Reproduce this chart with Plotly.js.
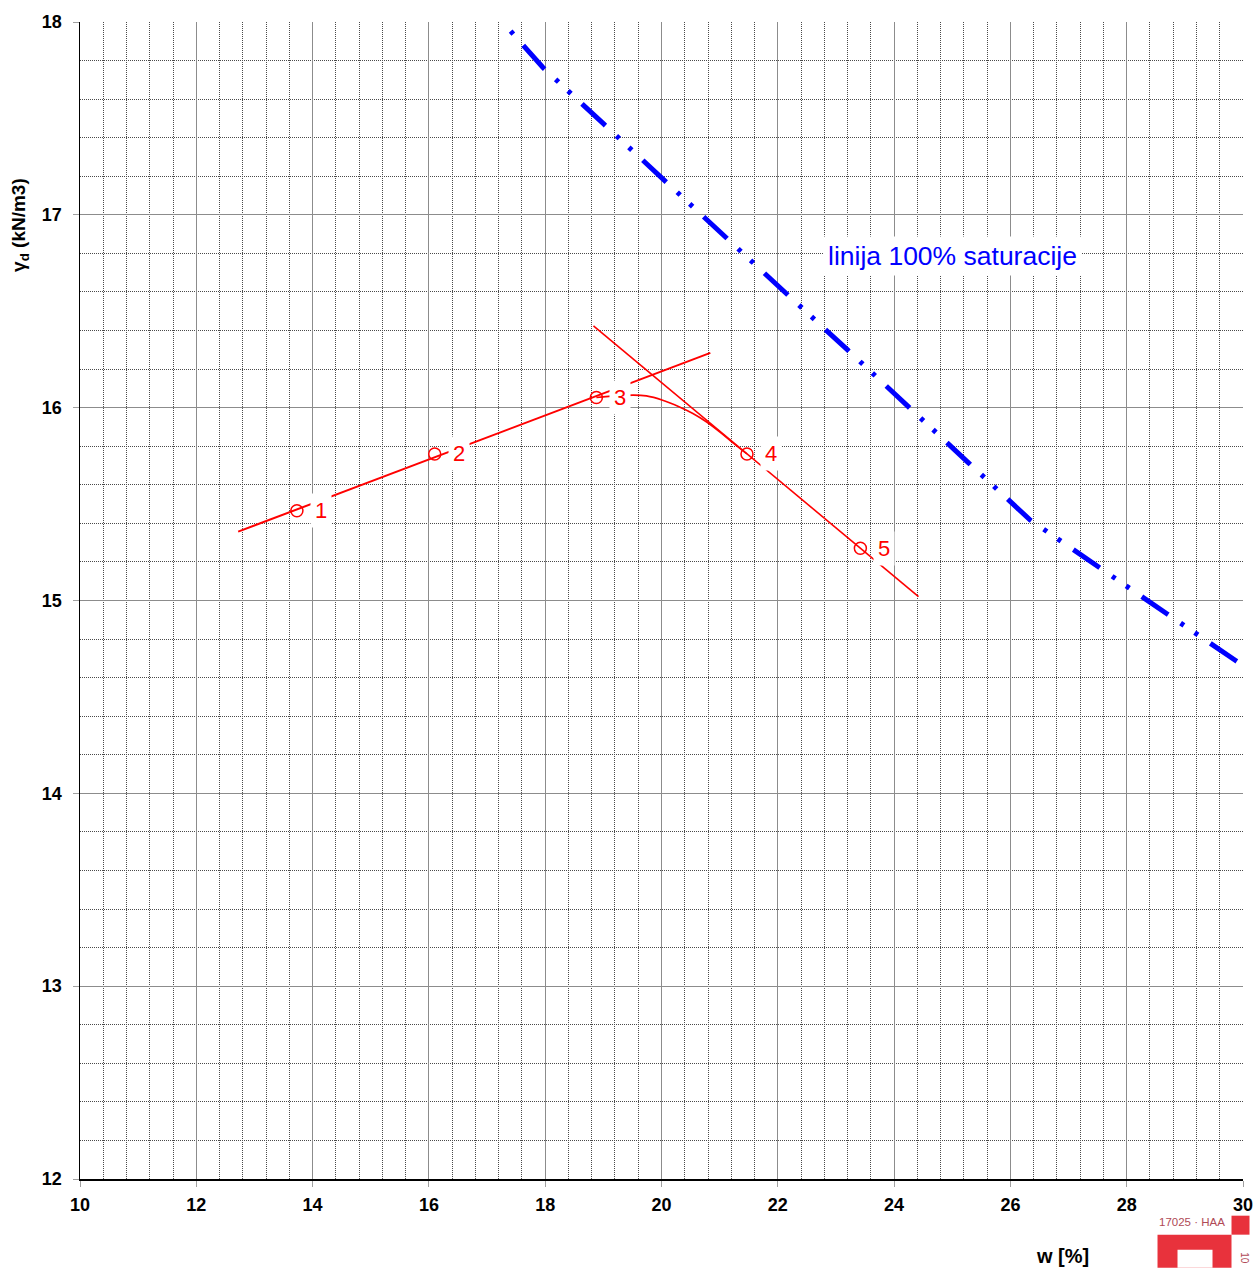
<!DOCTYPE html>
<html>
<head>
<meta charset="utf-8">
<script src="https://cdn.plot.ly/plotly-3.0.1.min.js"></script>
<style>
  html, body { margin: 0; padding: 0; background: #ffffff; }
  #chart { width: 1255px; height: 1268px; }
</style>
</head>
<body>
<div id="chart"></div>
<script>
// Proctor compaction test: dry unit weight vs. water content
const wPts = [13.73, 16.10, 18.88, 21.47, 23.42];        // water content w [%]
const gdPts = [15.465, 15.76, 16.053, 15.76, 15.271];    // dry unit weight [kN/m3]
const ptLabels = ['1', '2', '3', '4', '5'];

// dry-side and wet-side straight lines
const dryLineW = [12.72, 20.84];
const dryLineG = [15.357, 16.284];
const wetLineW = [18.83, 24.42];
const wetLineG = [16.424, 15.02];

// rounded crest between points 3 and 4
const crestW = [18.88, 19.51, 19.74, 20.02, 20.31, 20.54, 20.77, 21.00, 21.23, 21.47];
const crestG = [16.053, 16.065, 16.061, 16.039, 16.004, 15.970, 15.927, 15.875, 15.818, 15.76];

// zero air voids line (100 % saturation)
const satW = [17.406, 17.961, 19.010, 20.053, 21.102, 22.146, 23.205, 24.237, 25.280, 26.341, 27.516, 28.697, 29.866, 30.0];
const satG = [17.953, 17.764, 17.470, 17.176, 16.886, 16.592, 16.298, 16.004, 15.714, 15.417, 15.172, 14.930, 14.690, 14.663];

const xTicks = [10, 12, 14, 16, 18, 20, 22, 24, 26, 28, 30];
const yTicks = [12, 13, 14, 15, 16, 17, 18];

const FONT = 'Liberation Sans, Arial, sans-serif';
const RED = '#ff0000';
const BLUE = '#0000ff';
const LOGO_RED = '#e8323c';

// plot-area pixel frame, used to place the page decorations in paper units
const PL = 80.3, PR = 1243.5, PT = 21.7, PB = 1179.3;
const px = v => (v - PL) / (PR - PL);
const py = v => (PB - v) / (PB - PT);

const traces = [
  {
    x: satW, y: satG, type: 'scatter', mode: 'lines',
    line: { color: BLUE, width: 5, dash: '4px,15px,32px,15px,4px,13px' },
    hoverinfo: 'skip', cliponaxis: true
  },
  {
    x: dryLineW, y: dryLineG, type: 'scatter', mode: 'lines',
    line: { color: RED, width: 2 }, hoverinfo: 'skip'
  },
  {
    x: wetLineW, y: wetLineG, type: 'scatter', mode: 'lines',
    line: { color: RED, width: 1.6 }, hoverinfo: 'skip'
  },
  {
    x: crestW, y: crestG, type: 'scatter', mode: 'lines',
    line: { color: RED, width: 1.6, shape: 'spline', smoothing: 1 }, hoverinfo: 'skip'
  },
  {
    x: wPts, y: gdPts, type: 'scatter', mode: 'markers',
    marker: { symbol: 'circle-open', size: 12, color: RED, line: { color: RED, width: 1.5 } },
    hoverinfo: 'skip'
  }
];

const annotations = ptLabels.map((t, i) => ({
  x: wPts[i], y: gdPts[i], xref: 'x', yref: 'y',
  xanchor: 'center', yanchor: 'middle',
  text: t, showarrow: false, xshift: 24,
  font: { family: FONT, size: 22, color: RED },
  bgcolor: '#ffffff', borderpad: 4
}));

annotations.push(
  {
    x: 25.0, y: 16.786, xref: 'x', yref: 'y',
    xanchor: 'center', yanchor: 'middle',
    text: 'linija 100% saturacije', showarrow: false,
    font: { family: FONT, size: 26.5, color: BLUE },
    bgcolor: '#ffffff', borderpad: 4
  },
  {
    x: px(20), y: py(225), xref: 'paper', yref: 'paper',
    xanchor: 'center', yanchor: 'middle',
    text: 'γ<sub>d</sub> (kN/m3)', showarrow: false, textangle: -90,
    font: { family: FONT, size: 19, color: '#000000', weight: 'bold' }
  },
  {
    x: px(1063), y: py(1256), xref: 'paper', yref: 'paper',
    xanchor: 'center', yanchor: 'middle',
    text: 'w [%]', showarrow: false,
    font: { family: FONT, size: 20, color: '#000000', weight: 'bold' }
  },
  {
    x: px(1192), y: py(1222), xref: 'paper', yref: 'paper',
    xanchor: 'center', yanchor: 'middle',
    text: '17025 · HAA', showarrow: false,
    font: { family: FONT, size: 11.5, color: '#b04a56' }
  },
  {
    x: px(1245), y: py(1259), xref: 'paper', yref: 'paper',
    xanchor: 'center', yanchor: 'middle',
    text: '10', showarrow: false, textangle: 90,
    font: { family: FONT, size: 10, color: '#b04a56' }
  }
);

const shapes = [
  // accreditation mark
  { type: 'rect', xref: 'paper', yref: 'paper', x0: px(1158), x1: px(1232), y0: py(1268), y1: py(1235),
    fillcolor: LOGO_RED, line: { width: 0 }, layer: 'above' },
  { type: 'rect', xref: 'paper', yref: 'paper', x0: px(1178), x1: px(1213), y0: py(1268), y1: py(1250),
    fillcolor: '#ffffff', line: { width: 0 }, layer: 'above' },
  { type: 'rect', xref: 'paper', yref: 'paper', x0: px(1232), x1: px(1250), y0: py(1235), y1: py(1216),
    fillcolor: LOGO_RED, line: { width: 0 }, layer: 'above' }
];

const axisCommon = {
  showline: true, linecolor: '#000000', linewidth: 1.5,
  showgrid: true, gridcolor: '#8c8c8c', gridwidth: 1,
  zeroline: false,
  ticks: 'outside', ticklen: 6, tickcolor: '#a0a0a0', tickwidth: 1,
  tickfont: { family: FONT, size: 18, color: '#000000', weight: 'bold' },
  fixedrange: true
};

const layout = {
  width: 1255, height: 1268,
  margin: { l: 80, r: 12, t: 22, b: 89, pad: 0 },
  paper_bgcolor: '#ffffff', plot_bgcolor: '#ffffff',
  showlegend: false,
  font: { family: FONT },
  xaxis: Object.assign({}, axisCommon, {
    range: [10, 30], tickmode: 'array', tickvals: xTicks, ticktext: xTicks.map(String),
    ticklabelstandoff: 3,
    minor: { dtick: 0.4, tick0: 10, showgrid: true, gridcolor: '#4a4a4a', gridwidth: 1, griddash: '1px,1px', ticks: '' }
  }),
  yaxis: Object.assign({}, axisCommon, {
    range: [12, 18], tickmode: 'array', tickvals: yTicks, ticktext: yTicks.map(String),
    ticklabelstandoff: 7,
    minor: { dtick: 0.2, tick0: 12, showgrid: true, gridcolor: '#4a4a4a', gridwidth: 1, griddash: '1px,1px', ticks: '' }
  }),
  annotations: annotations,
  shapes: shapes
};

Plotly.newPlot('chart', traces, layout, { displayModeBar: false, staticPlot: true });
</script>
</body>
</html>
